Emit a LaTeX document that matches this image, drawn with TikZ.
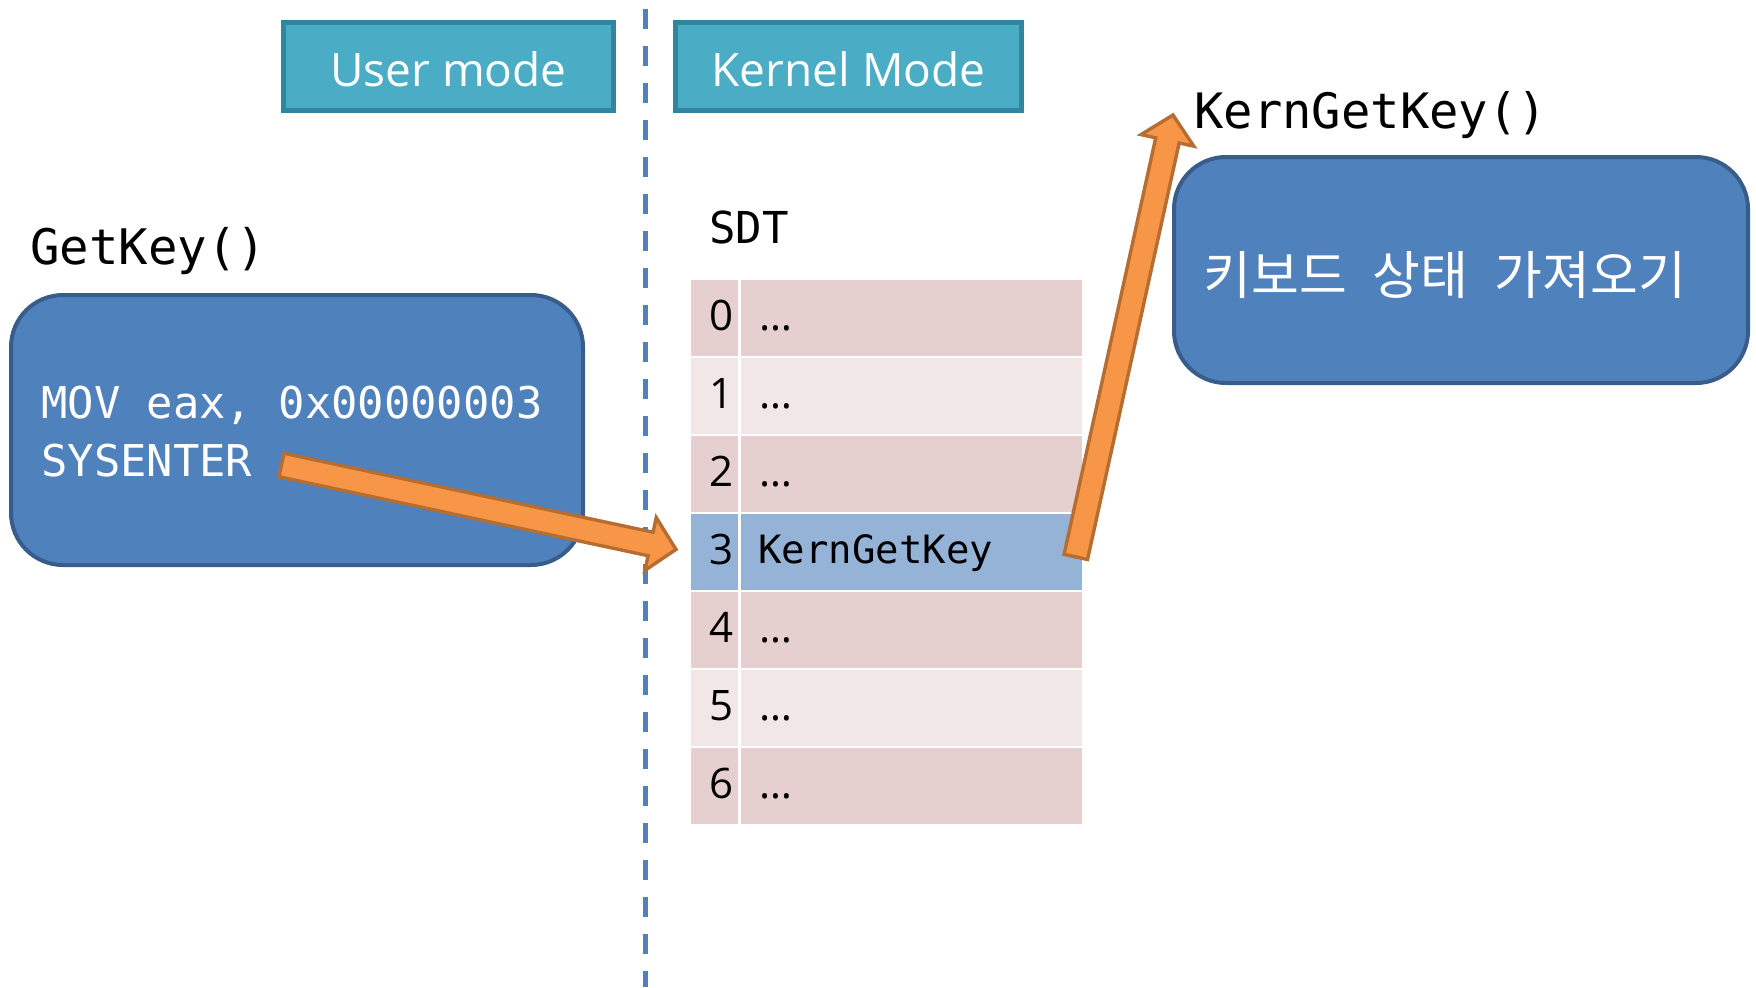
\documentclass[tikz,border=0pt]{standalone}
\usepackage{fontspec}
\setmainfont{Open Sans}
\setmonofont{DejaVu Sans Mono}
\newfontfamily\kofont{Noto Sans CJK KR}
\usetikzlibrary{calc}

\definecolor{hdrfill}{HTML}{4BACC6}
\definecolor{hdrline}{HTML}{31859C}
\definecolor{boxfill}{HTML}{4F81BD}
\definecolor{boxline}{HTML}{385D8A}
\definecolor{rowdark}{HTML}{E6CFCF}
\definecolor{rowlight}{HTML}{F1E7E7}
\definecolor{rowsel}{HTML}{95B3D7}
\definecolor{arrfill}{HTML}{F79646}
\definecolor{arrline}{HTML}{B66D31}

% block arrow drawn as a polygon from #1 (tail centre) to #2 (tip)
\newcommand\blockarrow[2]{%
  \coordinate (ba-base) at ($(#2)!13pt!(#1)$);
  \filldraw[blockarr]
    ($(#1)!6pt!90:(#2)$) -- ($(ba-base)!6pt!-90:(#1)$)
    -- ($(ba-base)!13.5pt!-90:(#1)$) -- (#2)
    -- ($(ba-base)!13.5pt!90:(#1)$) -- ($(ba-base)!6pt!90:(#1)$)
    -- ($(#1)!6pt!-90:(#2)$) -- cycle;}

\tikzset{
  hdr/.style={draw=hdrline, fill=hdrfill, line width=2.5pt, text=white,
    font=\fontsize{23}{27}\selectfont, inner sep=0pt,
    text height=19.5pt, text depth=0pt},
  codebox/.style={draw=boxline, fill=boxfill, line width=2pt,
    rounded corners=26pt, inner sep=0pt},
  codetxt/.style={inner sep=0pt, anchor=base west,
    font=\ttfamily\fontsize{21.9}{25}\selectfont},
  cell/.style={inner sep=0pt, anchor=north west, minimum height=38pt},
  idxtxt/.style={inner sep=0pt, anchor=base, font=\fontsize{21}{25}\selectfont},
  dots/.style={inner sep=0pt, anchor=base west, font=\fontsize{21}{25}\selectfont},
  divider/.style={draw=boxfill, line width=2.5pt, dash pattern=on 10pt off 8.5pt},
  blockarr/.style={fill=arrfill, draw=arrline, line width=1.7pt},
}

\begin{document}
\begin{tikzpicture}[x=0.5pt, y=-0.5pt]
\useasboundingbox (0,0) rectangle (1756,987);

% user / kernel divider
\coordinate (divtop) at (645,9);
\coordinate (divbot) at (645,987);
\draw[divider] (divtop) -- (divbot);

% mode headers
\node[hdr, minimum width=165pt, minimum height=44pt] (user) at (448.5,66.5) {User mode};
\node[hdr, minimum width=173pt, minimum height=44pt] (kernel) at (848.5,66.5) {Kernel Mode};

% user-side caller
\node[codetxt, font=\ttfamily\fontsize{24.5}{28}\selectfont] (getkey) at (30,264) {GetKey()};
\node[codebox, minimum width=286pt, minimum height=135pt] (callbox) at (297,430) {};
\node[codetxt, text=white] (mov) at (41,418) {MOV eax, 0x00000003};
\node[codetxt, text=white] (sysenter) at (41,476) {SYSENTER};

% service descriptor table
\node[codetxt, font=\ttfamily\fontsize{22}{25}\selectfont] (sdt) at (709,243) {SDT};
\foreach \i/\c in {0/rowdark,1/rowlight,2/rowdark,3/rowsel,4/rowdark,5/rowlight,6/rowdark}{
  \node[cell, fill=\c, minimum width=23.5pt] (idx\i) at (691,{280+78*\i}) {};
  \node[cell, fill=\c, minimum width=170.5pt] (val\i) at (741,{280+78*\i}) {};
  \node[idxtxt] (num\i) at (721.5,{330+78*\i}) {\i};
}
\foreach \i in {0,1,2,4,5,6}{
  \node[dots] (dots\i) at (759,{330+78*\i}) {…};
}
\node[codetxt, font=\ttfamily\fontsize{19.5}{23}\selectfont] (kgk) at (758,563) {KernGetKey};

% kernel-side routine
\node[codetxt, font=\ttfamily\fontsize{24.4}{28}\selectfont] (kernlabel) at (1194,128) {KernGetKey()};
\node[codebox, minimum width=287pt, minimum height=113pt] (kernbox) at (1461,270) {};
\node[inner sep=0pt, anchor=base west, text=white,
      font=\kofont\fontsize{26}{30}\selectfont] (kortext) at (1203,294)
      {\spaceskip=13pt 키보드 상태 가져오기};

% control flow
\coordinate (a1s) at (281.5,465);
\coordinate (a1e) at ($(idx3.west)+(-15,-3)$);
\blockarrow{a1s}{a1e}
\coordinate (a2s) at ($(val3.east)+(-7,4.5)$);
\coordinate (a2e) at ($(kernlabel.base west)+(-21,-13)$);
\blockarrow{a2s}{a2e}
\end{tikzpicture}
\end{document}
